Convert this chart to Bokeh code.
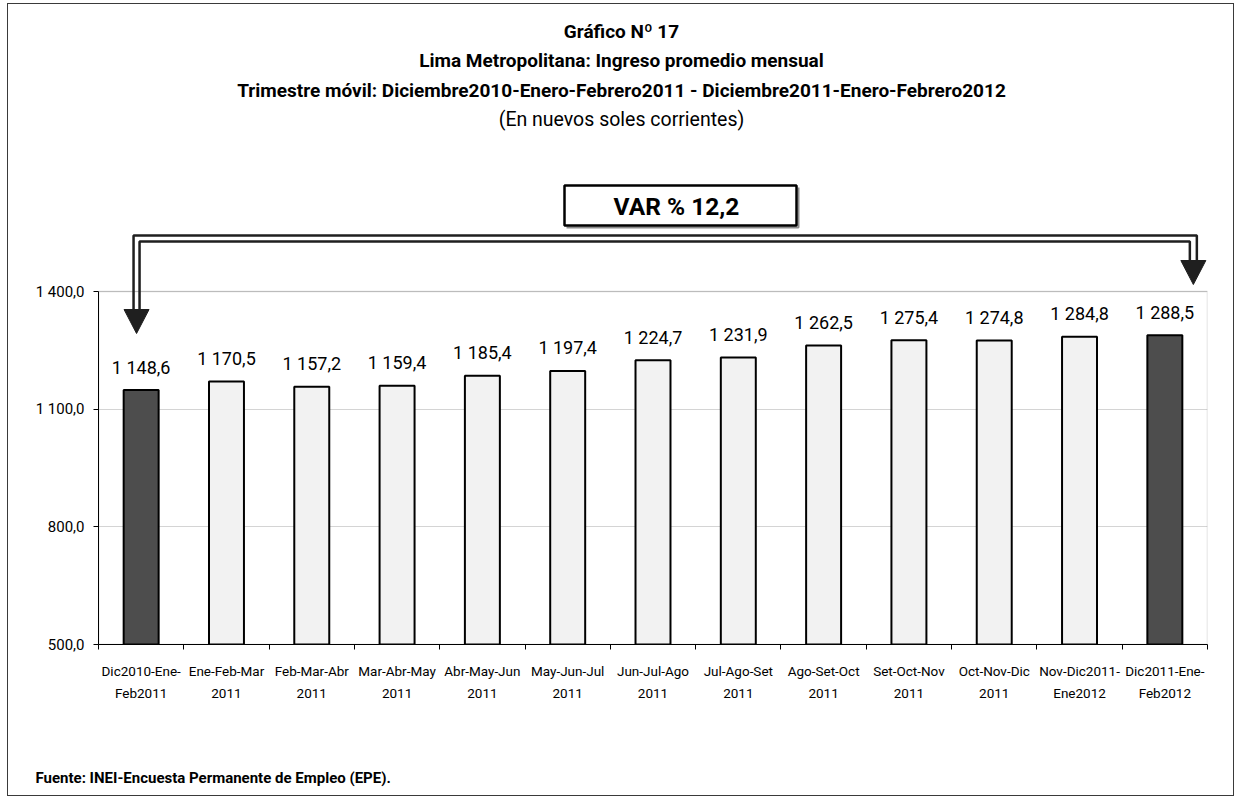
from bokeh.plotting import figure
from bokeh.models import (FactorRange, Range1d, LinearAxis, FixedTicker,
                          CustomJSTickFormatter, Label, BoxAnnotation, Title)
from bokeh.core.properties import value
from bokeh.embed import file_html
from bokeh.resources import INLINE

# ---------------- data ----------------
categories = ["Dic2010-Ene-Feb2011", "Ene-Feb-Mar 2011", "Feb-Mar-Abr 2011",
              "Mar-Abr-May 2011", "Abr-May-Jun 2011", "May-Jun-Jul 2011",
              "Jun-Jul-Ago 2011", "Jul-Ago-Set 2011", "Ago-Set-Oct 2011",
              "Set-Oct-Nov 2011", "Oct-Nov-Dic 2011", "Nov-Dic2011-Ene2012",
              "Dic2011-Ene-Feb2012"]
category_labels = ["Dic2010-Ene-\nFeb2011", "Ene-Feb-Mar\n2011", "Feb-Mar-Abr\n2011",
                   "Mar-Abr-May\n2011", "Abr-May-Jun\n2011", "May-Jun-Jul\n2011",
                   "Jun-Jul-Ago\n2011", "Jul-Ago-Set\n2011", "Ago-Set-Oct\n2011",
                   "Set-Oct-Nov\n2011", "Oct-Nov-Dic\n2011", "Nov-Dic2011-\nEne2012",
                   "Dic2011-Ene-\nFeb2012"]
income = [1148.6, 1170.5, 1157.2, 1159.4, 1185.4, 1197.4, 1224.7,
          1231.9, 1262.5, 1275.4, 1274.8, 1284.8, 1288.5]
y_ticks = [500, 800, 1100, 1400]
var_pct = 12.2

title_lines = ["Gráfico Nº 17",
               "Lima Metropolitana: Ingreso promedio mensual",
               "Trimestre móvil: Diciembre2010-Enero-Febrero2011 - Diciembre2011-Enero-Febrero2012",
               "(En nuevos soles corrientes)"]
source_note = "Fuente: INEI-Encuesta Permanente de Empleo (EPE)."


def fmt(v):
    return f"{v:,.1f}".replace(",", " ").replace(".", ",")


# ---------------- layout (page pixels) ----------------
FONT = "Roboto"
OX, OY = 8, 4                  # page position of the canvas origin
W, H = 1227, 793               # canvas size
FL, FR, FB = 98, 1207, 644     # frame left / right / bottom on the page
Y0, Y1 = 500, 1400
PX_PER_UNIT = 353 / 900
ML = FL - OX
MR = W - (FR - OX)
MB = H - (FB - OY)
FRAME_W = FR - FL
FRAME_H = FB - OY
YMAX = Y0 + FRAME_H / PX_PER_UNIT
N = len(categories)
CW = FRAME_W / N


def sx(px):          # page x -> synthetic x
    return (px - FL) / CW


def sy(py):          # page y -> data y
    return Y0 + (FB - py) / PX_PER_UNIT


def page_y(v):       # data y -> page y
    return FB - (v - Y0) * PX_PER_UNIT


p = figure(x_range=FactorRange(*categories), y_range=Range1d(Y0, YMAX),
           width=W, height=H, output_backend="svg", toolbar_location=None,
           x_axis_location=None, title=None,
           min_border_left=ML, min_border_right=MR, min_border_top=0,
           min_border_bottom=MB)
p.outline_line_color = None
p.background_fill_color = "white"
p.border_fill_color = "white"
p.xgrid.visible = False
p.styles = {"margin-left": "7px", "margin-top": "3px", "border": "1px solid #3a3a3a"}

# y axis
p.yaxis.ticker = FixedTicker(ticks=y_ticks)
p.yaxis.bounds = (Y0, Y1)
p.yaxis.major_label_overrides = {t: fmt(t) for t in y_ticks}
p.yaxis.minor_tick_line_color = None
p.yaxis.major_tick_in = 0
p.yaxis.major_tick_out = 5
p.yaxis.axis_line_color = "black"
p.yaxis.major_tick_line_color = "black"
p.yaxis.major_label_text_font = FONT
p.yaxis.major_label_text_font_size = "15px"
p.yaxis.major_label_text_color = "black"
p.yaxis.major_label_standoff = 9
p.ygrid.grid_line_color = "#d4d4d4"

# x axis (labels at centres, tick marks at category boundaries)
xaxis = LinearAxis(
    ticker=FixedTicker(ticks=[i + 0.5 for i in range(N)], minor_ticks=list(range(N + 1))),
    formatter=CustomJSTickFormatter(args=dict(labels=category_labels),
                                    code="return labels[Math.floor(tick)];"),
    major_tick_line_color=None, major_tick_in=0, major_tick_out=0,
    minor_tick_in=0, minor_tick_out=5, minor_tick_line_color="black",
    axis_line_color="black", major_label_standoff=13,
    major_label_text_font=FONT, major_label_text_font_size="13.5px",
    major_label_text_color="black", major_label_text_line_height=1.42,
    axis_label=" ", axis_label_standoff=43, axis_label_text_font_size="10px")
p.add_layout(xaxis, "below")

# source note under the axis
p.add_layout(Title(text=source_note, align="left", offset=35 - FL, standoff=10,
                   text_font=FONT, text_font_style="bold", text_font_size="15px",
                   text_color="black"), "below")

# plot-area box
p.add_layout(BoxAnnotation(bottom=Y0, top=Y1, fill_alpha=0, line_color="#868686",
                           line_width=1.5, level="underlay"))

# bars
colors = ["#4d4d4d" if i in (0, N - 1) else "#f2f2f2" for i in range(N)]
p.vbar(x=categories, top=income, bottom=Y0, width=0.41, fill_color=colors,
       line_color="black", line_width=2)

# value labels
p.text(x=categories, y=[v + 23 / PX_PER_UNIT for v in income], text=[fmt(v) for v in income],
       text_align="center", text_baseline="middle", text_font=value(FONT),
       text_font_size="18px", text_color="black")

# ---------------- arrows & VAR box ----------------
top_py = page_y(Y1)
lx = FL + 0.5 * CW - 4.6
rx = FL + (N - 0.5) * CW + 28.5
ARROW_COL = "#1f1f1f"
hy_out, hy_in = top_py - 56, top_py - 50
p.line(x=[sx(lx - 3), sx(lx - 3), sx(rx + 3.5), sx(rx + 3.5)],
       y=[sy(top_py + 18), sy(hy_out), sy(hy_out), sy(top_py - 31)],
       line_color=ARROW_COL, line_width=2.5)
p.line(x=[sx(lx + 3), sx(lx + 3), sx(rx - 3.5), sx(rx - 3.5)],
       y=[sy(top_py + 18), sy(hy_in), sy(hy_in), sy(top_py - 31)],
       line_color=ARROW_COL, line_width=2.5)
p.patch(x=[sx(lx - 12.5), sx(lx + 12.5), sx(lx)],
        y=[sy(top_py + 18), sy(top_py + 18), sy(top_py + 42)], fill_color=ARROW_COL,
        line_color=ARROW_COL)
p.patch(x=[sx(rx - 12.5), sx(rx + 12.5), sx(rx)],
        y=[sy(top_py - 31), sy(top_py - 31), sy(top_py - 7)], fill_color=ARROW_COL,
        line_color=ARROW_COL)

bx0, bx1, by0, by1 = 564, 796, 185, 225
p.line(x=[sx(bx0 + 2), sx(bx1 + 2), sx(bx1 + 2)], y=[sy(by1 + 2), sy(by1 + 2), sy(by0 + 2)],
       line_color="#8c8c8c", line_width=2)
p.quad(left=[sx(bx0)], right=[sx(bx1)], top=[sy(by0)], bottom=[sy(by1)],
       fill_color="white", line_color="black", line_width=2.5)
p.add_layout(Label(x=(bx0 + bx1) / 2 - OX - 2, y=(by0 + by1) / 2 - OY,
                   x_units="canvas", y_units="canvas",
                   text=f"VAR %  {fmt(var_pct)}", text_align="center",
                   text_baseline="middle", text_font=FONT, text_font_style="bold",
                   text_font_size="24.5px", text_color="black"))

# ---------------- titles ----------------
title_y = [30, 59, 89, 118]
title_size = ["19px", "19px", "19px", "19.5px"]
for i, (t, ty) in enumerate(zip(title_lines, title_y)):
    p.add_layout(Label(x=620 - OX, y=ty - OY, x_units="canvas", y_units="canvas", text=t,
                       text_align="center", text_baseline="middle", text_font=FONT,
                       text_font_style="normal" if i == 3 else "bold",
                       text_font_size=title_size[i], text_color="black"))

open("out.html", "w").write(file_html(p, INLINE))
